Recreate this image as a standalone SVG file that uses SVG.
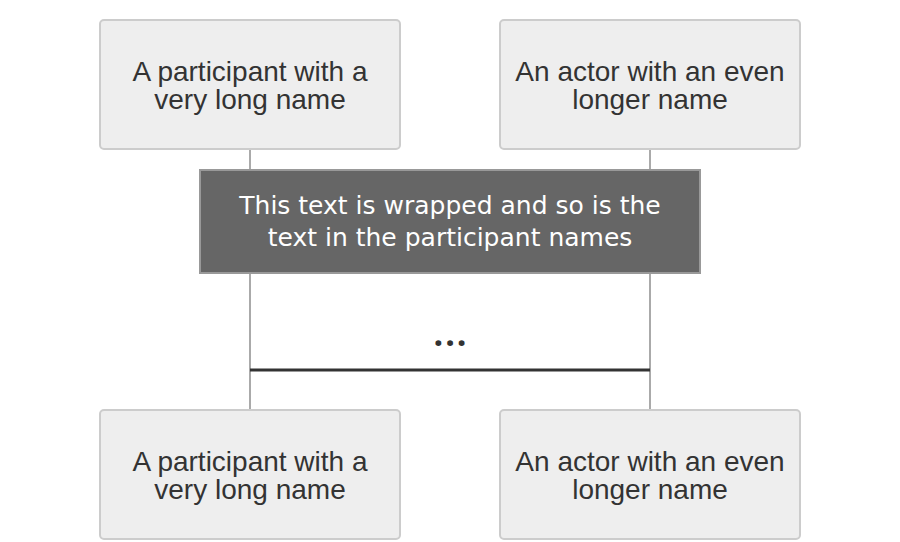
<svg xmlns="http://www.w3.org/2000/svg" width="900" height="542" viewBox="0 0 900 542">
<style>
.actor rect{fill:#eeeeee;stroke:#cccccc;stroke-width:2}
.actor text{font-family:"Liberation Sans",Arial,sans-serif;font-size:28px;fill:#333333;text-anchor:middle}
.life{stroke:#aaaaaa;stroke-width:2;fill:none}
.delay{stroke:#333333;stroke-width:3;fill:none}
.note rect{fill:#666666;stroke:#999999;stroke-width:2}
.note text{font-family:"DejaVu Sans",Verdana,sans-serif;font-size:25px;fill:#ffffff;text-anchor:middle}
.dots{font-family:"Open Sans",sans-serif;font-size:34px;fill:#333333;text-anchor:middle;font-weight:bold;letter-spacing:2px}
</style>
<rect width="900" height="542" fill="#ffffff"/>
<g id="connectors">
<line class="life" x1="250" y1="150" x2="250" y2="410"/>
<line class="life" x1="650" y1="150" x2="650" y2="410"/>
<line class="delay" x1="250" y1="370" x2="650" y2="370"/>
</g>
<g id="p1-top" class="actor">
<rect x="100" y="20" width="300" height="129" rx="4"/>
<text x="250" y="81">A participant with a</text>
<text x="250" y="109">very long name</text>
</g>
<g id="p2-top" class="actor">
<rect x="500" y="20" width="300" height="129" rx="4"/>
<text x="650" y="81">An actor with an even</text>
<text x="650" y="109">longer name</text>
</g>
<g id="note" class="note">
<rect x="200" y="170" width="500" height="103"/>
<text x="450" y="214">This text is wrapped and so is the</text>
<text x="450" y="246">text in the participant names</text>
</g>
<g id="delay-label">
<text class="dots" x="451" y="346">...</text>
</g>
<g id="p1-bottom" class="actor">
<rect x="100" y="410" width="300" height="129" rx="4"/>
<text x="250" y="471">A participant with a</text>
<text x="250" y="499">very long name</text>
</g>
<g id="p2-bottom" class="actor">
<rect x="500" y="410" width="300" height="129" rx="4"/>
<text x="650" y="471">An actor with an even</text>
<text x="650" y="499">longer name</text>
</g>
</svg>
